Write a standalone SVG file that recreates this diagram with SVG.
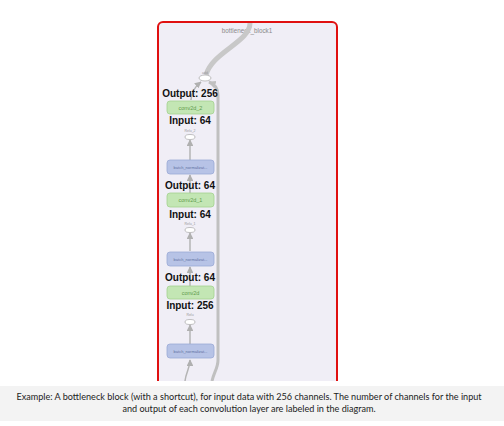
<svg xmlns="http://www.w3.org/2000/svg" width="504" height="426" viewBox="0 0 504 426">
<style>
.lbl{font-family:"Liberation Sans",Arial,sans-serif;font-weight:bold;font-size:10px;fill:#111;text-anchor:middle}
.conv rect{fill:#c3e6b4;stroke:#a3d08f;stroke-width:0.8}
.conv text{font-family:"Liberation Sans",Arial,sans-serif;font-size:5.5px;fill:#5f9a4c;text-anchor:middle}
.bn rect{fill:#b7c3e6;stroke:#9aa9d6;stroke-width:0.8}
.bn text{font-family:"Liberation Sans",Arial,sans-serif;font-size:4px;fill:#60709e;text-anchor:middle}
.op ellipse{fill:#fff;stroke:#a8a8a8;stroke-width:0.7}
.op text{font-family:"Liberation Sans",Arial,sans-serif;font-size:3.5px;fill:#999;text-anchor:middle}
.e{fill:none;stroke:#b4b4b4;stroke-width:1.5}
.thick{fill:none;stroke:#c0c0c0;stroke-width:3}
.top{fill:none;stroke:#c8c8c8;stroke-width:5}
.cap{font-family:Lato,"Liberation Sans",sans-serif;font-size:9.1px;fill:#222;text-anchor:middle}
</style>
<defs>
<marker id="ah" viewBox="0 0 10 10" refX="9" refY="5" markerWidth="4.5" markerHeight="4.5" orient="auto" markerUnits="strokeWidth">
<path d="M0,0 L10,5 L0,10 z" fill="#b0b0b0"/>
</marker>
<marker id="ah2" viewBox="0 0 10 10" refX="9" refY="5" markerWidth="2.5" markerHeight="2.5" orient="auto" markerUnits="strokeWidth">
<path d="M0,0 L10,5 L0,10 z" fill="#c0c0c0"/>
</marker>
</defs>
<rect width="504" height="426" fill="#fff"/>
<g id="block">
<rect x="158" y="22" width="179" height="400" rx="5" fill="#f0eef6" stroke="#e01010" stroke-width="2"/>
<text x="247" y="33" font-family="Liberation Sans,Arial,sans-serif" font-size="6.3" fill="#8a8a8a" text-anchor="middle">bottleneck_block1</text>
</g>
<g id="connectors">
<path class="top" d="M250,23 C250,42 212,52 206,75"/>
<path class="thick" d="M212,381 C214,372 218,368 218,360 L218,95 C218,88 214,84 209,82" marker-end="url(#ah2)"/>
<path class="e" d="M191,100 C191,92 196,86 201,82" marker-end="url(#ah)"/>
<path class="e" d="M190,160 L190,140" marker-end="url(#ah)"/>
<path class="e" d="M190,193 L190,175" marker-end="url(#ah)"/>
<path class="e" d="M190,251 L190,233" marker-end="url(#ah)"/>
<path class="e" d="M190,286 L190,267" marker-end="url(#ah)"/>
<path class="e" d="M190,344 L190,325" marker-end="url(#ah)"/>
<path class="e" d="M185,381 C186,372 190,368 190,360" marker-end="url(#ah)"/>
</g>
<g id="add" class="op"><ellipse cx="205" cy="78" rx="6" ry="3"/><text x="205" y="74">add</text></g>
<g id="conv2d_2" class="conv"><rect x="167" y="101" width="47" height="13" rx="3"/><text x="190.5" y="109.5">conv2d_2</text></g>
<g id="relu_2" class="op"><ellipse cx="190" cy="137" rx="5" ry="2.5"/><text x="190" y="132">Relu_2</text></g>
<g id="bn_2" class="bn"><rect x="167" y="160" width="47" height="14" rx="3"/><text x="190.5" y="168.5">batch_normalizat...</text></g>
<g id="conv2d_1" class="conv"><rect x="167" y="193" width="47" height="14" rx="3"/><text x="190.5" y="202">conv2d_1</text></g>
<g id="relu_1" class="op"><ellipse cx="190" cy="230" rx="5" ry="2.5"/><text x="190" y="225">Relu_1</text></g>
<g id="bn_1" class="bn"><rect x="167" y="252" width="47" height="14" rx="3"/><text x="190.5" y="260.5">batch_normalizat...</text></g>
<g id="conv2d" class="conv"><rect x="167" y="286" width="47" height="13" rx="3"/><text x="190.5" y="294.5">conv2d</text></g>
<g id="relu" class="op"><ellipse cx="190" cy="322" rx="5" ry="2.5"/><text x="190" y="316">Relu</text></g>
<g id="bn" class="bn"><rect x="167" y="344" width="47" height="14" rx="3"/><text x="190.5" y="352.5">batch_normalizat...</text></g>
<g id="labels">
<text class="lbl" x="190" y="97">Output: 256</text>
<text class="lbl" x="190" y="124">Input: 64</text>
<text class="lbl" x="190" y="189">Output: 64</text>
<text class="lbl" x="190" y="218">Input: 64</text>
<text class="lbl" x="190" y="281">Output: 64</text>
<text class="lbl" x="190" y="309">Input: 256</text>
</g>
<rect x="0" y="381" width="504" height="45" fill="#fff"/>
<g id="caption">
<rect x="0" y="386" width="504" height="35" fill="#f3f3f3"/>
<text class="cap" x="249" y="400">Example: A bottleneck block (with a shortcut), for input data with 256 channels. The number of channels for the input</text>
<text class="cap" x="249" y="411.5">and output of each convolution layer are labeled in the diagram.</text>
</g>
</svg>
